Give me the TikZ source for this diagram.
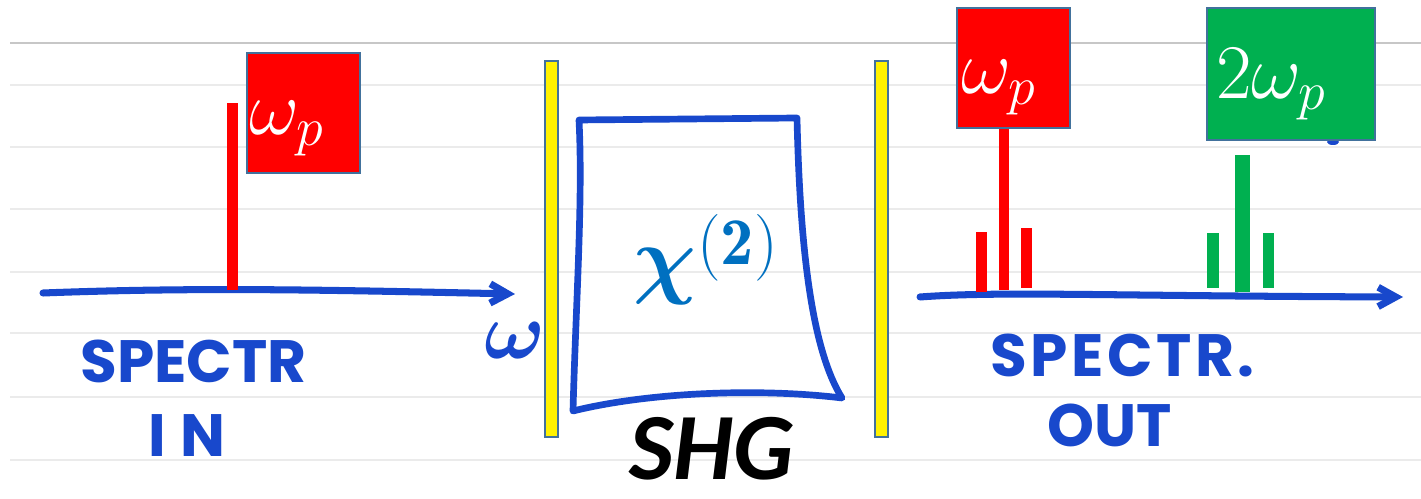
\RequirePackage{fix-cm}
\documentclass[tikz,border=0pt]{standalone}
\usepackage{fontspec}
\newfontfamily\handfont{Poppins}
\newfontfamily\shgfont{Carlito}
\usetikzlibrary{positioning,arrows.meta,calc}

\definecolor{handblue}{RGB}{24,72,204}
\definecolor{chiblue}{RGB}{0,112,192}
\definecolor{boxline}{RGB}{65,113,156}
\definecolor{pumpred}{RGB}{255,0,0}
\definecolor{shgreen}{RGB}{0,176,80}

\tikzset{
  ruled/.style={line width=1.2pt, black!8},
  topline/.style={line width=0.8pt, black!22},
  axis/.style={line width=4pt, handblue, line cap=round, line join=round, ->},
  hand/.style={handblue, inner sep=0pt, anchor=base west, font=\handfont\bfseries\fontsize{34}{34}\selectfont},
  freqbox/.style={draw=boxline, line width=1.2pt, minimum width=2.26cm, minimum height=2.4cm, inner sep=0pt},
  boxtext/.style={text=white, inner sep=0pt, anchor=base west, font=\fontsize{44}{44}\selectfont},
  mirror/.style={draw=boxline, fill=yellow, line width=1pt},
  crystal/.style={draw=handblue, line width=3.8pt, line join=round},
  pumpline/.style={pumpred, line width=6.2pt},
  shgline/.style={shgreen, line width=6.8pt},
}

\begin{document}
\begin{tikzpicture}[x=0.02cm,y=-0.02cm,>={Straight Barb[length=10pt,width=11pt]}]
  \useasboundingbox (0,0) rectangle (1421,499);
  \fill[white] (0,0) rectangle (1421,499);
  % notebook lines
  \draw[topline] (10,43) -- (1421,43);
  \foreach \y in {85,147,209,272,333,397,460}
    \draw[ruled] (10,\y) -- (1421,\y);

  % input spectrum
  \coordinate (inA) at (43,293);
  \coordinate (inB) at (515,294);
  \draw[axis] (inA) .. controls (200,287) and (330,290) .. (inB);
  \draw[pumpline] (232.5,290) -- (232.5,103);
  \node[freqbox, fill=pumpred] (inbox) at (303.5,113) {};
  \node[boxtext] (inlbl) at ($(inbox.south west)+(3,-40)$) {$\omega_p$};
  \node[handblue, inner sep=0pt, font=\fontsize{46}{46}\selectfont\boldmath] (omega) at (515,341) {$\omega$};
  \node[hand] (inname) at (80,383) {SPECTR};
  \node[hand] (inname2) at (148,457) {I\kern0.25em N};

  % mirrors and crystal
  \draw[mirror] (545,61) rectangle (558,437);
  \draw[mirror] (875,61) rectangle (888,437);
  \draw[crystal] (579,120) -- (797,118)
    .. controls (800,250) and (812,350) .. (842,398)
    .. controls (760,388) and (650,392) .. (573,411)
    .. controls (576,300) and (583,200) .. cycle;
  \node[text=chiblue, inner sep=0pt, anchor=base west, font=\fontsize{50}{50}\selectfont\boldmath] (chi) at (633,288) {$\chi$};
  \node[text=chiblue, inner sep=0pt, anchor=base west, font=\fontsize{38}{38}\selectfont] (chisup) at (chi.base east |- 0,265) {$\mathbf{(2)}$};
  \node[inner sep=0pt, anchor=base, font=\shgfont\bfseries\itshape\fontsize{54}{54}\selectfont] (shg) at (712,480) {SHG};

  % output spectrum
  \coordinate (outA) at (920,297);
  \coordinate (outB) at (1403,297);
  \draw[axis] (outA) .. controls (1000,291) and (1100,296) .. (outB);
  \draw[pumpline] (1004,290) -- (1004,128);
  \draw[pumpline] (981.5,292) -- (981.5,232);
  \draw[pumpline] (1026.5,288) -- (1026.5,228);
  \draw[shgline, line width=8.5pt] (1242.5,292) -- (1242.5,155);
  \draw[shgline] (1213,288) -- (1213,233);
  \draw[shgline] (1268.5,288) -- (1268.5,233);
  \fill[handblue] (1333,142) ellipse (6 and 3);
  \node[freqbox, fill=pumpred] (outbox) at (1013.5,68) {};
  \node[boxtext] (outlbl) at ($(outbox.south west)+(5,-36)$) {$\omega_p$};
  \node[freqbox, fill=shgreen, minimum width=3.36cm, minimum height=2.64cm] (shgbox) at (1291,74) {};
  \node[boxtext] (shglbl) at ($(shgbox.south west)+(10,-43)$) {$2\omega_p$};
  \node[hand, font=\handfont\bfseries\fontsize{34}{34}\selectfont\addfontfeatures{LetterSpace=6}] (outname) at (990,377) {SPECTR.};
  \node[hand] (outname2) at (1047,447) {OUT};
\end{tikzpicture}
\end{document}
